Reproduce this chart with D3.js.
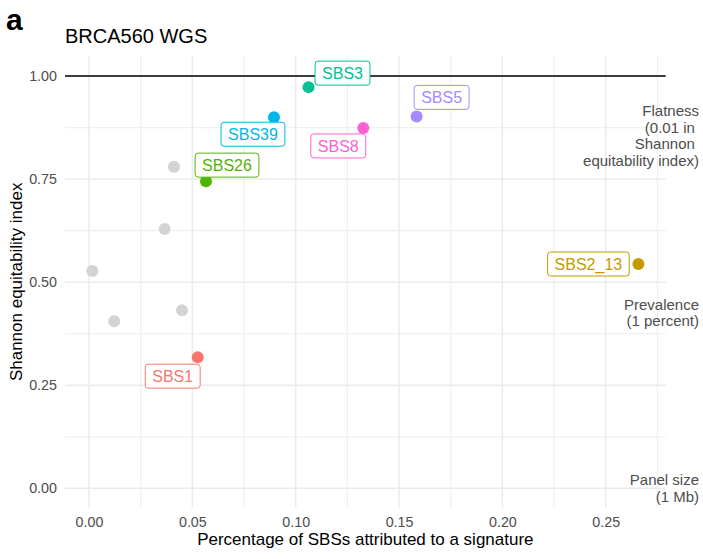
<!DOCTYPE html>
<html>
<head>
<meta charset="utf-8">
<script src="https://cdn.jsdelivr.net/npm/d3@7"></script>
<style>
  body { margin: 0; background: #fff; }
  text { font-family: "Liberation Sans", Arial, sans-serif; }
</style>
</head>
<body>
<script>
        var w = 703;
        var h = 559;
        var margin = {top: 56, right: 37.3, bottom: 51.3, left: 65};

        // signatures, attribution share and Shannon equitability
        var signatures = ["SBS1", "SBS2_13", "SBS26", "SBS3", "SBS39", "SBS5", "SBS8", "", "", "", "", ""];
        var share   = [0.0526, 0.2658, 0.0566, 0.1062, 0.0895, 0.1585, 0.1327, 0.0016, 0.0122, 0.0366, 0.0450, 0.0411];
        var shannon = [0.318, 0.544, 0.745, 0.973, 0.900, 0.902, 0.874, 0.527, 0.405, 0.629, 0.432, 0.780];

        var xTicks = [0, 0.05, 0.10, 0.15, 0.20, 0.25];
        var yTicks = [0, 0.25, 0.50, 0.75, 1.00];

        var palette = ["#F8766D", "#C49A00", "#53B400", "#00C094", "#00B6EB", "#A58AFF", "#FB61D7"];
        var greyDot = "#D3D3D3";

        // label offset from its point (px), like ggrepel put them
        var labelOffset = [[-25, 19], [-50, 0], [21, -16], [34, -14], [-21, 17], [25, -19], [-25, 18]];

        var notes = [
            {y: 0.855, lines: ["Flatness", "(0.01 in ", "Shannon ", "equitability index)"]},
            {y: 0.425, lines: ["Prevalence", "(1 percent)"]},
            {y: 0.0, lines: ["Panel size", "(1 Mb)"]}
        ];

        var data = share.map((d, i) => ({x: d, y: shannon[i], name: signatures[i], i: i}));

        var xMin = d3.min(share), xMax = d3.max(share);
        var xPad = (xMax - xMin) * 0.05;

        var xScale = d3.scaleLinear()
                    .domain([xMin - xPad, xMax + xPad])
                    .range([margin.left, w - margin.right]);

        var yScale = d3.scaleLinear()
                    .domain([-0.047, 1.0485])
                    .range([h - margin.bottom, margin.top]);

        var svg = d3.select("body").append("svg").attr("width", w).attr("height", h);

        var x0 = margin.left, x1 = w - margin.right, y0 = margin.top, y1 = h - margin.bottom;

        //minor grid
        var xMinor = xTicks.map(d => d + 0.025).filter(d => xScale(d) < x1);
        xMinor.unshift(-0.025);
        var yMinor = [0.125, 0.375, 0.625, 0.875];
        svg.append("g").selectAll("line").data(xMinor.filter(d => xScale(d) > x0)).enter()
            .append("line")
            .attr("x1", d => xScale(d)).attr("x2", d => xScale(d))
            .attr("y1", y0).attr("y2", y1)
            .attr("stroke", "#F0F0F0").attr("stroke-width", 1.3);
        svg.append("g").selectAll("line").data(yMinor).enter()
            .append("line")
            .attr("y1", d => yScale(d)).attr("y2", d => yScale(d))
            .attr("x1", x0).attr("x2", x1)
            .attr("stroke", "#F0F0F0").attr("stroke-width", 1.3);

        //major grid
        svg.append("g").selectAll("line").data(xTicks).enter()
            .append("line")
            .attr("x1", d => xScale(d)).attr("x2", d => xScale(d))
            .attr("y1", y0).attr("y2", y1)
            .attr("stroke", "#EBEBEB").attr("stroke-width", 1.5);
        svg.append("g").selectAll("line").data(yTicks).enter()
            .append("line")
            .attr("y1", d => yScale(d)).attr("y2", d => yScale(d))
            .attr("x1", x0).attr("x2", x1)
            .attr("stroke", "#EBEBEB").attr("stroke-width", 1.5);

        // axes (text only, ggplot minimal theme)
        var xAxis = svg.append("g")
            .attr("transform", "translate(0," + (y1 + 3) + ")")
            .call(d3.axisBottom(xScale).tickValues(xTicks).tickFormat(d3.format(".2f")).tickSize(0));
        var yAxis = svg.append("g")
            .attr("transform", "translate(" + (x0 - 4) + ",0)")
            .call(d3.axisLeft(yScale).tickValues(yTicks).tickFormat(d3.format(".2f")).tickSize(0));
        [xAxis, yAxis].forEach(a => {
            a.select(".domain").remove();
            a.selectAll("text")
                .attr("font-family", "Liberation Sans, Arial, sans-serif")
                .attr("font-size", "14.3px")
                .attr("fill", "#4D4D4D");
        });
        xAxis.selectAll("text").attr("dy", "0.95em");
        yAxis.selectAll("text").attr("x", -4);

        //reference line at 1
        svg.append("line")
            .attr("x1", x0).attr("x2", x1)
            .attr("y1", yScale(1)).attr("y2", yScale(1))
            .attr("stroke", "#000").attr("stroke-width", 1.4);

        //points
        svg.append("g").selectAll("circle")
            .data(data).enter()
            .append("circle")
            .attr("cx", d => xScale(d.x))
            .attr("cy", d => yScale(d.y))
            .attr("r", 6)
            .attr("fill", d => d.name ? palette[d.i] : greyDot);

        //labels
        var lab = svg.append("g").selectAll("g")
            .data(data.filter(d => d.name)).enter()
            .append("g")
            .attr("transform", d => "translate(" + (xScale(d.x) + labelOffset[d.i][0]) + "," + (yScale(d.y) + labelOffset[d.i][1]) + ")");
        lab.append("rect");
        lab.append("text")
            .text(d => d.name)
            .attr("text-anchor", "middle")
            .attr("y", 6)
            .attr("font-size", "16px")
            .attr("fill", d => palette[d.i]);
        lab.each(function(d) {
            var g = d3.select(this);
            var tw = g.select("text").node().getComputedTextLength();
            g.select("rect")
                .attr("x", -tw / 2 - 7).attr("y", -12)
                .attr("width", tw + 14).attr("height", 24)
                .attr("rx", 3).attr("ry", 3)
                .attr("fill", "#fff")
                .attr("stroke", palette[d.i])
                .attr("stroke-width", 1);
        });

        //right-hand notes
        notes.forEach(n => {
            var t = svg.append("text")
                .attr("x", 699)
                .attr("y", yScale(n.y) - (n.lines.length - 1) * 16.5 / 2 + 5)
                .attr("text-anchor", "end")
                .attr("font-size", "15px")
                .attr("fill", "#4D4D4D")
                .attr("xml:space", "preserve")
                .style("white-space", "pre");
            n.lines.forEach((l, k) => {
                t.append("tspan").attr("x", 699).attr("dy", k ? 16.5 : 0).text(l);
            });
        });

        //titles
        svg.append("text")
            .attr("x", (x0 + x1) / 2).attr("y", 545)
            .attr("text-anchor", "middle")
            .attr("font-size", "17px")
            .text("Percentage of SBSs attributed to a signature");
        svg.append("text")
            .attr("transform", "translate(22," + ((y0 + y1) / 2) + ") rotate(-90)")
            .attr("text-anchor", "middle")
            .attr("font-size", "17px")
            .text("Shannon equitability index");
        svg.append("text")
            .attr("x", 65).attr("y", 43)
            .attr("font-size", "20px")
            .text("BRCA560 WGS");
        svg.append("text")
            .attr("x", 6).attr("y", 30)
            .attr("font-size", "30px")
            .attr("font-weight", "bold")
            .text("a");
</script>
</body>
</html>
